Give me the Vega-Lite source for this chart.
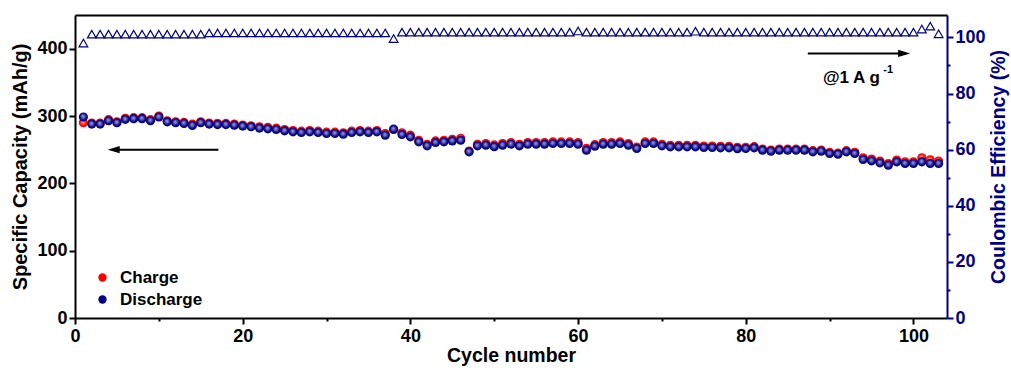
{
  "$schema": "https://vega.github.io/schema/vega-lite/v6.json",
  "width": 872,
  "height": 303,
  "autosize": {"type": "none"},
  "padding": {"left": 75, "top": 15, "right": 64, "bottom": 52},
  "background": "white",
  "config": {"view": {"stroke": null}, "font": "Liberation Sans"},
  "datasets": {
    "cap": [
      {"cycle": 1, "charge": 290, "discharge": 298.5, "ce": 98},
      {"cycle": 2, "charge": 289.5, "discharge": 288, "ce": 101.2},
      {"cycle": 3, "charge": 289.5, "discharge": 288, "ce": 101.2},
      {"cycle": 4, "charge": 294.5, "discharge": 293, "ce": 101.2},
      {"cycle": 5, "charge": 291.5, "discharge": 290, "ce": 101.2},
      {"cycle": 6, "charge": 296.5, "discharge": 295, "ce": 101.2},
      {"cycle": 7, "charge": 297.5, "discharge": 296, "ce": 101.2},
      {"cycle": 8, "charge": 297.5, "discharge": 296, "ce": 101.2},
      {"cycle": 9, "charge": 294.5, "discharge": 293, "ce": 101.2},
      {"cycle": 10, "charge": 300, "discharge": 298.5, "ce": 101.2},
      {"cycle": 11, "charge": 293, "discharge": 291.3, "ce": 101.2},
      {"cycle": 12, "charge": 291.5, "discharge": 290, "ce": 101.2},
      {"cycle": 13, "charge": 290.5, "discharge": 289, "ce": 101.2},
      {"cycle": 14, "charge": 288, "discharge": 286, "ce": 101.2},
      {"cycle": 15, "charge": 291.5, "discharge": 290, "ce": 101.2},
      {"cycle": 16, "charge": 289.5, "discharge": 288, "ce": 101.6},
      {"cycle": 17, "charge": 289, "discharge": 287.3, "ce": 101.6},
      {"cycle": 18, "charge": 289, "discharge": 287.3, "ce": 101.6},
      {"cycle": 19, "charge": 288, "discharge": 286.4, "ce": 101.6},
      {"cycle": 20, "charge": 286.5, "discharge": 285, "ce": 101.6},
      {"cycle": 21, "charge": 285.5, "discharge": 284, "ce": 101.6},
      {"cycle": 22, "charge": 284, "discharge": 282, "ce": 101.6},
      {"cycle": 23, "charge": 283, "discharge": 281, "ce": 101.6},
      {"cycle": 24, "charge": 282, "discharge": 280, "ce": 101.6},
      {"cycle": 25, "charge": 280, "discharge": 278, "ce": 101.6},
      {"cycle": 26, "charge": 278.5, "discharge": 276.5, "ce": 101.6},
      {"cycle": 27, "charge": 277.5, "discharge": 275.5, "ce": 101.6},
      {"cycle": 28, "charge": 278.5, "discharge": 276.5, "ce": 101.6},
      {"cycle": 29, "charge": 277.5, "discharge": 275.5, "ce": 101.6},
      {"cycle": 30, "charge": 276, "discharge": 274, "ce": 101.6},
      {"cycle": 31, "charge": 276, "discharge": 274, "ce": 101.6},
      {"cycle": 32, "charge": 275, "discharge": 273, "ce": 101.6},
      {"cycle": 33, "charge": 277.5, "discharge": 275.5, "ce": 101.6},
      {"cycle": 34, "charge": 278.5, "discharge": 276.5, "ce": 101.6},
      {"cycle": 35, "charge": 277.5, "discharge": 275.5, "ce": 101.6},
      {"cycle": 36, "charge": 278.5, "discharge": 276.5, "ce": 101.6},
      {"cycle": 37, "charge": 274, "discharge": 271.5, "ce": 101.6},
      {"cycle": 38, "charge": 280, "discharge": 280.4, "ce": 99.6},
      {"cycle": 39, "charge": 275, "discharge": 272.5, "ce": 101.9},
      {"cycle": 40, "charge": 271.5, "discharge": 269, "ce": 101.9},
      {"cycle": 41, "charge": 264, "discharge": 261.6, "ce": 101.9},
      {"cycle": 42, "charge": 258, "discharge": 255.7, "ce": 101.9},
      {"cycle": 43, "charge": 263, "discharge": 260.6, "ce": 101.9},
      {"cycle": 44, "charge": 264, "discharge": 261.6, "ce": 101.9},
      {"cycle": 45, "charge": 265.5, "discharge": 263, "ce": 101.9},
      {"cycle": 46, "charge": 267, "discharge": 264, "ce": 101.9},
      {"cycle": 47, "charge": 248, "discharge": 246.8, "ce": 101.9},
      {"cycle": 48, "charge": 258, "discharge": 255.7, "ce": 101.9},
      {"cycle": 49, "charge": 259, "discharge": 256.7, "ce": 101.9},
      {"cycle": 50, "charge": 257, "discharge": 254.5, "ce": 101.9},
      {"cycle": 51, "charge": 259, "discharge": 256.7, "ce": 101.9},
      {"cycle": 52, "charge": 260.5, "discharge": 258.2, "ce": 101.9},
      {"cycle": 53, "charge": 258, "discharge": 255.7, "ce": 101.9},
      {"cycle": 54, "charge": 260.5, "discharge": 258.2, "ce": 101.9},
      {"cycle": 55, "charge": 260.5, "discharge": 258.2, "ce": 101.9},
      {"cycle": 56, "charge": 260.5, "discharge": 258.2, "ce": 101.9},
      {"cycle": 57, "charge": 261.5, "discharge": 259.2, "ce": 101.9},
      {"cycle": 58, "charge": 261.5, "discharge": 259.2, "ce": 101.9},
      {"cycle": 59, "charge": 261.5, "discharge": 259.2, "ce": 101.9},
      {"cycle": 60, "charge": 260.5, "discharge": 258.2, "ce": 102.3},
      {"cycle": 61, "charge": 252, "discharge": 249.3, "ce": 101.9},
      {"cycle": 62, "charge": 257.5, "discharge": 255.2, "ce": 101.9},
      {"cycle": 63, "charge": 260.5, "discharge": 258.2, "ce": 101.9},
      {"cycle": 64, "charge": 260.5, "discharge": 258.2, "ce": 101.9},
      {"cycle": 65, "charge": 261.5, "discharge": 259.2, "ce": 101.9},
      {"cycle": 66, "charge": 259, "discharge": 256.7, "ce": 101.9},
      {"cycle": 67, "charge": 254, "discharge": 251.7, "ce": 101.9},
      {"cycle": 68, "charge": 261.5, "discharge": 259.2, "ce": 101.9},
      {"cycle": 69, "charge": 261.5, "discharge": 259.2, "ce": 101.9},
      {"cycle": 70, "charge": 258, "discharge": 255.7, "ce": 101.9},
      {"cycle": 71, "charge": 256.5, "discharge": 254.2, "ce": 101.9},
      {"cycle": 72, "charge": 256.5, "discharge": 254.2, "ce": 101.9},
      {"cycle": 73, "charge": 256.5, "discharge": 254.2, "ce": 101.9},
      {"cycle": 74, "charge": 256.5, "discharge": 254.2, "ce": 102.2},
      {"cycle": 75, "charge": 255.5, "discharge": 253.2, "ce": 101.9},
      {"cycle": 76, "charge": 255.5, "discharge": 253.2, "ce": 101.9},
      {"cycle": 77, "charge": 255, "discharge": 252.7, "ce": 101.9},
      {"cycle": 78, "charge": 255, "discharge": 252.7, "ce": 101.9},
      {"cycle": 79, "charge": 253.5, "discharge": 251.5, "ce": 101.9},
      {"cycle": 80, "charge": 253.5, "discharge": 251.7, "ce": 101.9},
      {"cycle": 81, "charge": 254.5, "discharge": 252.7, "ce": 101.9},
      {"cycle": 82, "charge": 251, "discharge": 249.3, "ce": 101.9},
      {"cycle": 83, "charge": 249.5, "discharge": 247.8, "ce": 101.9},
      {"cycle": 84, "charge": 251, "discharge": 249.3, "ce": 101.9},
      {"cycle": 85, "charge": 251, "discharge": 249.3, "ce": 101.9},
      {"cycle": 86, "charge": 251, "discharge": 249.3, "ce": 101.9},
      {"cycle": 87, "charge": 251, "discharge": 249.3, "ce": 101.9},
      {"cycle": 88, "charge": 248.5, "discharge": 246.8, "ce": 101.9},
      {"cycle": 89, "charge": 249.5, "discharge": 247.8, "ce": 101.9},
      {"cycle": 90, "charge": 246, "discharge": 244.3, "ce": 101.9},
      {"cycle": 91, "charge": 245, "discharge": 243.3, "ce": 101.9},
      {"cycle": 92, "charge": 248.5, "discharge": 246.8, "ce": 101.9},
      {"cycle": 93, "charge": 246, "discharge": 244.3, "ce": 101.9},
      {"cycle": 94, "charge": 238, "discharge": 235.4, "ce": 101.9},
      {"cycle": 95, "charge": 236, "discharge": 233.4, "ce": 101.9},
      {"cycle": 96, "charge": 233, "discharge": 230.4, "ce": 101.9},
      {"cycle": 97, "charge": 229.5, "discharge": 227, "ce": 101.9},
      {"cycle": 98, "charge": 234.5, "discharge": 231.9, "ce": 101.9},
      {"cycle": 99, "charge": 232, "discharge": 229.5, "ce": 101.9},
      {"cycle": 100, "charge": 232, "discharge": 229.5, "ce": 101.9},
      {"cycle": 101, "charge": 238, "discharge": 231.9, "ce": 103},
      {"cycle": 102, "charge": 235, "discharge": 229.5, "ce": 104},
      {"cycle": 103, "charge": 233, "discharge": 229.5, "ce": 101.3}
    ],
    "arrows": [
      {"x1": 17.1, "x2": 4.6, "y": 250, "tip": 3.9, "dir": "left"},
      {"x1": 87.4, "x2": 98.9, "y": 393, "tip": 99.6, "dir": "right"}
    ],
    "note": [{"tx": 89.2, "ty": 356, "label": "@1 A g"}],
    "sup": [{"tx": 96.4, "ty": 368, "label": "-1"}]
  },
  "layer": [
    {
      "data": {"name": "cap"},
      "layer": [
        {
          "mark": {"type": "point", "shape": "circle", "filled": true, "size": 84, "opacity": 1},
          "encoding": {
            "x": {
              "field": "cycle", "type": "quantitative",
              "scale": {"domain": [0, 104], "nice": false, "zero": false},
              "axis": {
                "orient": "bottom", "grid": false,
                "values": [0, 10, 20, 30, 40, 50, 60, 70, 80, 90, 100],
                "labelExpr": "datum.value % 20 === 0 ? datum.label : ''",
                "tickSize": {"condition": {"test": "datum.value % 20 === 0", "value": 6}, "value": 3},
                "tickWidth": 2, "tickColor": "black", "domainColor": "black", "domainWidth": 2,
                "labelFont": "Liberation Sans", "labelFontWeight": "bold", "labelFontSize": 18, "labelColor": "black",
                "labelPadding": 3, "labelFlush": false, "labelOverlap": false,
                "title": "Cycle number", "titleFont": "Liberation Sans", "titleFontWeight": "bold",
                "titleFontSize": 19.5, "titleColor": "black", "titlePadding": 1
              }
            },
            "y": {
              "field": "charge", "type": "quantitative",
              "scale": {"domain": [0, 450], "nice": false},
              "axis": {
                "orient": "left", "grid": false,
                "values": [0, 50, 100, 150, 200, 250, 300, 350, 400],
                "labelExpr": "datum.value % 100 === 0 ? datum.label : ''",
                "tickSize": {"condition": {"test": "datum.value % 100 === 0", "value": 6}, "value": 3},
                "tickWidth": 2, "tickColor": "black", "domainColor": "black", "domainWidth": 2,
                "labelFont": "Liberation Sans", "labelFontWeight": "bold", "labelFontSize": 18, "labelColor": "black",
                "labelPadding": 2, "labelOverlap": false, "labelFlush": false,
                "title": "Specific Capacity (mAh/g)", "titleFont": "Liberation Sans", "titleFontWeight": "bold",
                "titleFontSize": 20, "titleColor": "black", "titlePadding": 6
              }
            },
            "color": {
              "datum": "Charge", "type": "nominal",
              "scale": {"domain": ["Charge", "Discharge"], "range": ["#ff0000", "#000080"]},
              "legend": {
                "orient": "none", "legendX": 19, "legendY": 254, "title": null, "padding": 0,
                "symbolType": "circle", "symbolSize": 70, "symbolStrokeWidth": 0,
                "labelFont": "Liberation Sans", "labelFontWeight": "bold", "labelFontSize": 17, "labelColor": "black",
                "labelOffset": 9, "rowPadding": 4
              }
            }
          }
        },
        {
          "mark": {"type": "point", "shape": "circle", "filled": true, "size": 84, "strokeWidth": 0,
            "fill": {"gradient": "radial", "x1": 0.45, "y1": 0.4, "r1": 0, "x2": 0.5, "y2": 0.5, "r2": 0.5,
              "stops": [{"offset": 0, "color": "rgba(255,255,255,0.95)"}, {"offset": 0.3, "color": "rgba(255,200,200,0.7)"}, {"offset": 0.65, "color": "rgba(255,255,255,0.1)"}, {"offset": 0.9, "color": "rgba(255,255,255,0)"}]}},
          "encoding": {
            "x": {"field": "cycle", "type": "quantitative"},
            "y": {"field": "charge", "type": "quantitative"}
          }
        },
        {
          "mark": {"type": "point", "shape": "circle", "filled": true, "size": 84, "opacity": 1},
          "encoding": {
            "x": {"field": "cycle", "type": "quantitative"},
            "y": {"field": "discharge", "type": "quantitative"},
            "color": {"datum": "Discharge", "type": "nominal"}
          }
        },
        {
          "mark": {"type": "point", "shape": "circle", "filled": true, "size": 84, "strokeWidth": 0,
            "fill": {"gradient": "radial", "x1": 0.45, "y1": 0.4, "r1": 0, "x2": 0.5, "y2": 0.5, "r2": 0.5,
              "stops": [{"offset": 0, "color": "rgba(255,255,255,0.95)"}, {"offset": 0.3, "color": "rgba(200,200,255,0.75)"}, {"offset": 0.65, "color": "rgba(255,255,255,0.1)"}, {"offset": 0.9, "color": "rgba(255,255,255,0)"}]}},
          "encoding": {
            "x": {"field": "cycle", "type": "quantitative"},
            "y": {"field": "discharge", "type": "quantitative"}
          }
        },
        {
          "data": {"name": "arrows"},
          "mark": {"type": "rule", "color": "black", "strokeWidth": 2},
          "encoding": {
            "x": {"field": "x1", "type": "quantitative"},
            "x2": {"field": "x2"},
            "y": {"field": "y", "type": "quantitative"}
          }
        },
        {
          "data": {"name": "arrows"},
          "mark": {"type": "point", "filled": true, "size": 144, "color": "black", "opacity": 1, "strokeWidth": 0},
          "encoding": {
            "x": {"field": "tip", "type": "quantitative"},
            "y": {"field": "y", "type": "quantitative"},
            "shape": {"field": "dir", "type": "nominal", "legend": null,
              "scale": {"domain": ["left", "right"], "range": ["M0,0L2,-0.6L2,0.6Z", "M0,0L-2,-0.6L-2,0.6Z"]}}
          }
        },
        {
          "data": {"name": "note"},
          "mark": {"type": "text", "align": "left", "baseline": "middle", "font": "Liberation Sans", "fontWeight": "bold", "fontSize": 17, "color": "black"},
          "encoding": {
            "x": {"field": "tx", "type": "quantitative"},
            "y": {"field": "ty", "type": "quantitative"},
            "text": {"field": "label"}
          }
        },
        {
          "data": {"name": "sup"},
          "mark": {"type": "text", "align": "left", "baseline": "middle", "font": "Liberation Sans", "fontWeight": "bold", "fontSize": 11, "color": "black"},
          "encoding": {
            "x": {"field": "tx", "type": "quantitative"},
            "y": {"field": "ty", "type": "quantitative"},
            "text": {"field": "label"}
          }
        }
      ]
    },
    {
      "data": {"name": "cap"},
      "layer": [
        {
          "mark": {"type": "point", "shape": "triangle-up", "filled": false, "size": 75, "stroke": "#000080", "strokeWidth": 1.2, "opacity": 1},
          "encoding": {
            "x": {
              "field": "cycle", "type": "quantitative",
              "axis": {"orient": "top", "title": null, "labels": false, "ticks": false, "grid": false, "domainColor": "black", "domainWidth": 2}
            },
            "y": {
              "field": "ce", "type": "quantitative",
              "scale": {"domain": [0, 108], "nice": false},
              "axis": {
                "orient": "right", "grid": false,
                "values": [0, 10, 20, 30, 40, 50, 60, 70, 80, 90, 100],
                "labelExpr": "datum.value % 20 === 0 ? datum.label : ''",
                "tickSize": {"condition": {"test": "datum.value % 20 === 0", "value": 6}, "value": 3},
                "tickWidth": 2, "tickColor": "#000080", "domainColor": "#000080", "domainWidth": 2,
                "labelFont": "Liberation Sans", "labelFontWeight": "bold", "labelFontSize": 18, "labelColor": "#000080",
                "labelPadding": 2, "labelOverlap": false, "labelFlush": false,
                "title": "Coulombic Efficiency (%)", "titleFont": "Liberation Sans", "titleFontWeight": "bold",
                "titleFontSize": 19.5, "titleColor": "#000080", "titlePadding": 4, "titleAngle": 270, "titleBaseline": "top"
              }
            }
          }
        }
      ]
    }
  ],
  "resolve": {"scale": {"y": "independent"}, "axis": {"x": "independent"}}
}
